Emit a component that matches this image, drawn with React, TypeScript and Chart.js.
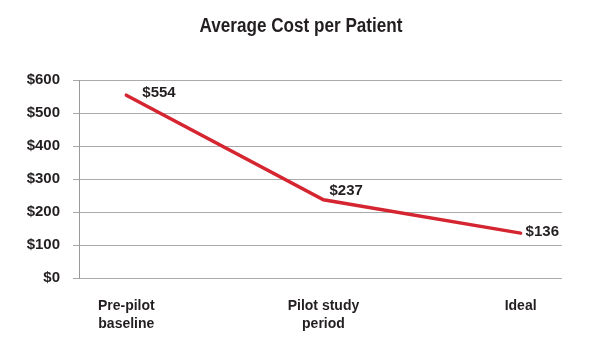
import React, { useEffect, useRef } from "react";
import { Chart, registerables } from "chart.js";

Chart.register(...registerables);

const TITLE = "Average Cost per Patient";
const CATEGORIES: string[][] = [["Pre-pilot", "baseline"], ["Pilot study", "period"], ["Ideal"]];
const COSTS: number[] = [554, 237, 136];
const Y_TICKS: number[] = [0, 100, 200, 300, 400, 500, 600];

// label offsets relative to each point (style only)
const LABEL_OFFSETS: [number, number][] = [[16, -2], [6, -9], [5, -1]];

const RED = "#d42530";
const TEXT = "#231f20";
const NUM_FONT = "bold 15px 'Liberation Sans', Arial, sans-serif";

const labelPlugin = {
  id: "customText",
  afterDraw(chart: any) {
    const ctx = chart.ctx as CanvasRenderingContext2D;
    ctx.save();
    ctx.font = "bold 20px 'Liberation Sans', sans-serif";
    ctx.fillStyle = TEXT;
    ctx.textBaseline = "middle";
    ctx.textAlign = "left";
    const w = ctx.measureText(TITLE).width;
    const target = 203;
    const cx = chart.width / 2 + 6;
    ctx.translate(cx - target / 2, 26);
    ctx.scale(target / w, 1);
    ctx.fillText(TITLE, 0, 0);
    ctx.restore();

    ctx.save();
    const meta = chart.getDatasetMeta(0);
    ctx.font = NUM_FONT;
    ctx.fillStyle = TEXT;
    ctx.textBaseline = "middle";
    ctx.textAlign = "left";
    meta.data.forEach((pt: any, i: number) => {
      const [dx, dy] = LABEL_OFFSETS[i];
      ctx.fillText("$" + COSTS[i], pt.x + dx, pt.y + dy);
    });
    ctx.restore();
  },
};

export default function App() {
  const ref = useRef<HTMLCanvasElement>(null);
  useEffect(() => {
    document.body.style.margin = "0";
    const chart = new Chart(ref.current!, {
      type: "line",
      data: {
        datasets: [
          {
            data: COSTS.map((v, i) => ({ x: i, y: v })),
            borderColor: RED,
            borderWidth: 3.5,
            borderCapStyle: "round",
            pointRadius: 0,
            tension: 0,
          },
        ],
      },
      options: {
        responsive: false,
        animation: false,
        layout: { padding: { top: 80, right: 28, bottom: 0, left: 0 } },
        plugins: { legend: { display: false }, title: { display: false }, tooltip: { enabled: false } },
        scales: {
          x: {
            type: "linear",
            min: -0.24,
            max: 2.21,
            grid: { display: false },
            border: { display: false },
            afterBuildTicks: (scale: any) => {
              scale.ticks = CATEGORIES.map((_, i) => ({ value: i }));
            },
            afterFit: (scale: any) => {
              scale.height = 73;
            },
            ticks: {
              autoSkip: false,
              maxRotation: 0,
              padding: 11,
              color: TEXT,
              font: { family: "'Liberation Sans', Arial, sans-serif", size: 14, weight: "bold", lineHeight: 1.3 },
              callback: (v: any) => CATEGORIES[v] ?? "",
            },
          },
          y: {
            min: 0,
            max: 600,
            afterBuildTicks: (scale: any) => {
              scale.ticks = Y_TICKS.map((v) => ({ value: v }));
            },
            afterFit: (scale: any) => {
              scale.width = 79;
            },
            grid: { color: "#aaaaaa", lineWidth: 1, tickLength: 6 },
            border: { display: true, color: "#999999", width: 1 },
            ticks: {
              padding: 13,
              color: TEXT,
              font: { family: "'Liberation Sans', Arial, sans-serif", size: 15, weight: "bold" },
              callback: (v: any) => "$" + v,
            },
          },
        },
      },
      plugins: [labelPlugin],
    } as any);
    return () => chart.destroy();
  }, []);
  return (
    <div style={{ width: 590, height: 351, background: "#fff" }}>
      <canvas ref={ref} width={590} height={351} />
    </div>
  );
}
